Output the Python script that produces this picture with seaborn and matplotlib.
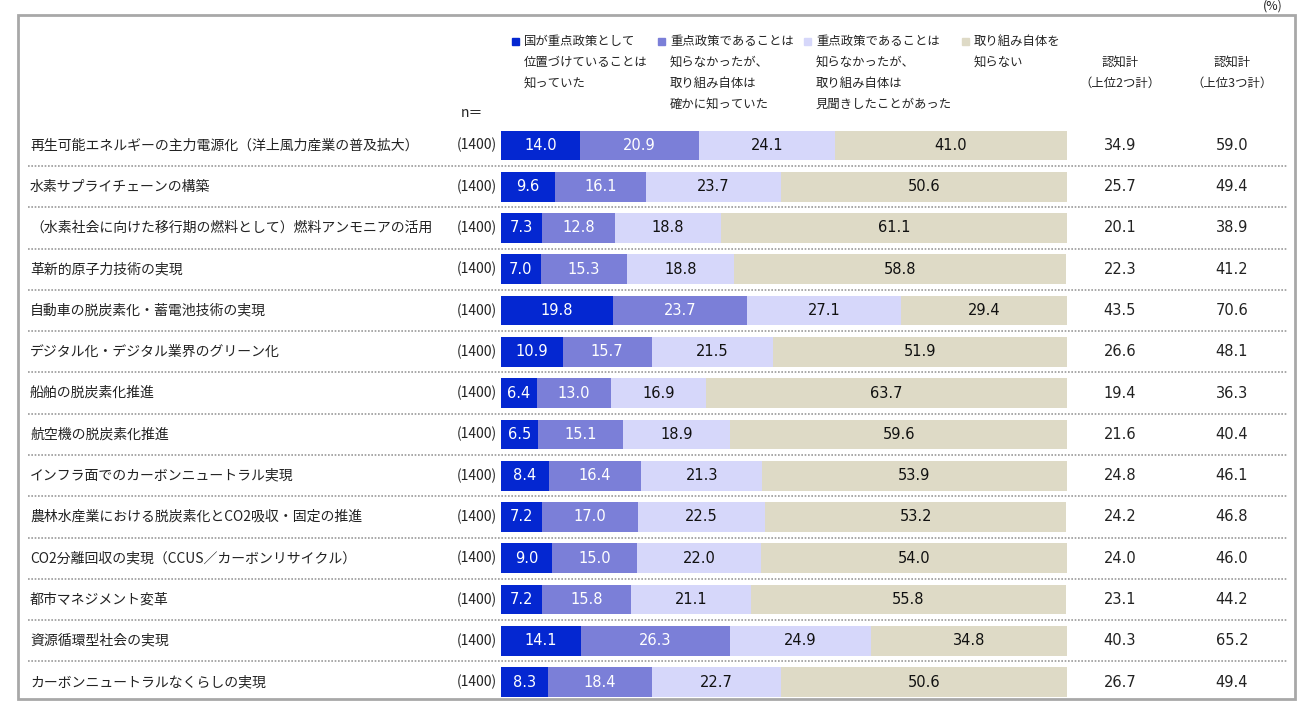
import matplotlib
matplotlib.use('Agg')
import matplotlib.pyplot as plt
import matplotlib.transforms as mtransforms
from matplotlib.patches import Rectangle
from matplotlib.lines import Line2D
import numpy as np
import pandas as pd
import seaborn as sns

# Data
items = ['再生可能エネルギーの主力電源化（洋上風力産業の普及拡大）',
         '水素サプライチェーンの構築',
         '（水素社会に向けた移行期の燃料として）燃料アンモニアの活用',
         '革新的原子力技術の実現',
         '自動車の脱炭素化・蓄電池技術の実現',
         'デジタル化・デジタル業界のグリーン化',
         '船舶の脱炭素化推進',
         '航空機の脱炭素化推進',
         'インフラ面でのカーボンニュートラル実現',
         '農林水産業における脱炭素化とCO2吸収・固定の推進',
         'CO2分離回収の実現（CCUS／カーボンリサイクル）',
         '都市マネジメント変革',
         '資源循環型社会の実現',
         'カーボンニュートラルなくらしの実現']
n_counts = [1400] * 14
knew_policy = [14.0, 9.6, 7.3, 7.0, 19.8, 10.9, 6.4, 6.5, 8.4, 7.2, 9.0, 7.2, 14.1, 8.3]
knew_surely = [20.9, 16.1, 12.8, 15.3, 23.7, 15.7, 13.0, 15.1, 16.4, 17.0, 15.0, 15.8, 26.3, 18.4]
heard_of = [24.1, 23.7, 18.8, 18.8, 27.1, 21.5, 16.9, 18.9, 21.3, 22.5, 22.0, 21.1, 24.9, 22.7]
not_known = [41.0, 50.6, 61.1, 58.8, 29.4, 51.9, 63.7, 59.6, 53.9, 53.2, 54.0, 55.8, 34.8, 50.6]
top2 = [34.9, 25.7, 20.1, 22.3, 43.5, 26.6, 19.4, 21.6, 24.8, 24.2, 24.0, 23.1, 40.3, 26.7]
top3 = [59.0, 49.4, 38.9, 41.2, 70.6, 48.1, 36.3, 40.4, 46.1, 46.8, 46.0, 44.2, 65.2, 49.4]

legend_labels = ['国が重点政策として\n位置づけていることは\n知っていた',
                 '重点政策であることは\n知らなかったが、\n取り組み自体は\n確かに知っていた',
                 '重点政策であることは\n知らなかったが、\n取り組み自体は\n見聞きしたことがあった',
                 '取り組み自体を\n知らない']
colors = ['#0427D1', '#7B7FD8', '#D6D7FA', '#DEDAC6']
text_colors = ['white', 'white', '#111111', '#111111']

W, H = 1315, 701
plt.rcParams['font.family'] = ['Noto Sans CJK JP', 'DejaVu Sans']
num_font = ['DejaVu Sans']

fig = plt.figure(figsize=(W / 100, H / 100), dpi=100)

# bar area in pixels
x0, x1 = 501, 1067
y_top, y_bot = 130.5, 697.0
bar_h = 0.72
ax = fig.add_axes([x0 / W, 1 - y_bot / H, (x1 - x0) / W, (y_bot - y_top) / H])

series = [knew_policy, knew_surely, heard_of, not_known]
cum = np.cumsum(np.array(series), axis=0)
df = pd.DataFrame({'item': items})
for k in range(4):
    df[f'c{k}'] = cum[k]

# stacked bars: draw cumulative totals from largest to smallest
for k in reversed(range(4)):
    sns.barplot(data=df, x=f'c{k}', y='item', order=items, orient='h',
                color=colors[k], saturation=1, width=bar_h, linewidth=0, ax=ax)

n = len(items)
half = bar_h / 2
ax.set_xlim(0, 100)
ax.set_ylim(n - 1 + half, -half)
ax.axis('off')

# values inside bars
for i in range(n):
    left = 0
    for k in range(4):
        v = series[k][i]
        ax.text(left + v / 2, i, f'{v:.1f}', ha='center', va='center',
                fontsize=10.5, color=text_colors[k], family=num_font)
        left += v

tr = mtransforms.blended_transform_factory(fig.transFigure, ax.transData)
for i in range(n):
    fig.text(30 / W, i, items[i], transform=tr, ha='left', va='center', fontsize=10, color='#222222')
    fig.text(497 / W, i, f'({n_counts[i]})', transform=tr, ha='right', va='center', fontsize=10, color='#222222')
    fig.text(1120 / W, i, f'{top2[i]:.1f}', transform=tr, ha='center', va='center', fontsize=10.5,
             color='#222222', family=num_font)
    fig.text(1232 / W, i, f'{top3[i]:.1f}', transform=tr, ha='center', va='center', fontsize=10.5,
             color='#222222', family=num_font)
    if i < n - 1:
        fig.add_artist(Line2D([28 / W, 1288 / W], [i + 0.5, i + 0.5], transform=tr,
                              color='#999999', linestyle=(0, (1, 1)), linewidth=1.2))

# header / legend
line_gap = 21.2
leg_sq_x = [512, 658, 804, 962]
for k, lab in enumerate(legend_labels):
    fig.patches.append(Rectangle((leg_sq_x[k] / W, 1 - 45 / H), 7 / W, 7 / H,
                                 transform=fig.transFigure, color=colors[k]))
    for j, line in enumerate(lab.split('\n')):
        fig.text((leg_sq_x[k] + 12) / W, 1 - (41 + j * line_gap) / H, line,
                 ha='left', va='center', fontsize=8.9, color='#222222')

for cx, sub in [(1120, '（上位2つ計）'), (1232, '（上位3つ計）')]:
    fig.text(cx / W, 1 - 62 / H, '認知計', ha='center', va='center', fontsize=8.9, color='#222222')
    fig.text(cx / W, 1 - 83 / H, sub, ha='center', va='center', fontsize=8.9, color='#222222')

fig.text(472 / W, 1 - 113 / H, 'n＝', ha='center', va='center', fontsize=10, color='#222222')
fig.text(1273 / W, 1 - 6 / H, '(%)', ha='center', va='center', fontsize=8.9, color='#222222')

# outer frame
fig.patches.append(Rectangle((18 / W, 1 - 699 / H), (1295 - 18) / W, (699 - 15) / H,
                             transform=fig.transFigure, fill=False,
                             edgecolor='#A8A8A8', linewidth=2))

fig.savefig('out.png', dpi=100)
